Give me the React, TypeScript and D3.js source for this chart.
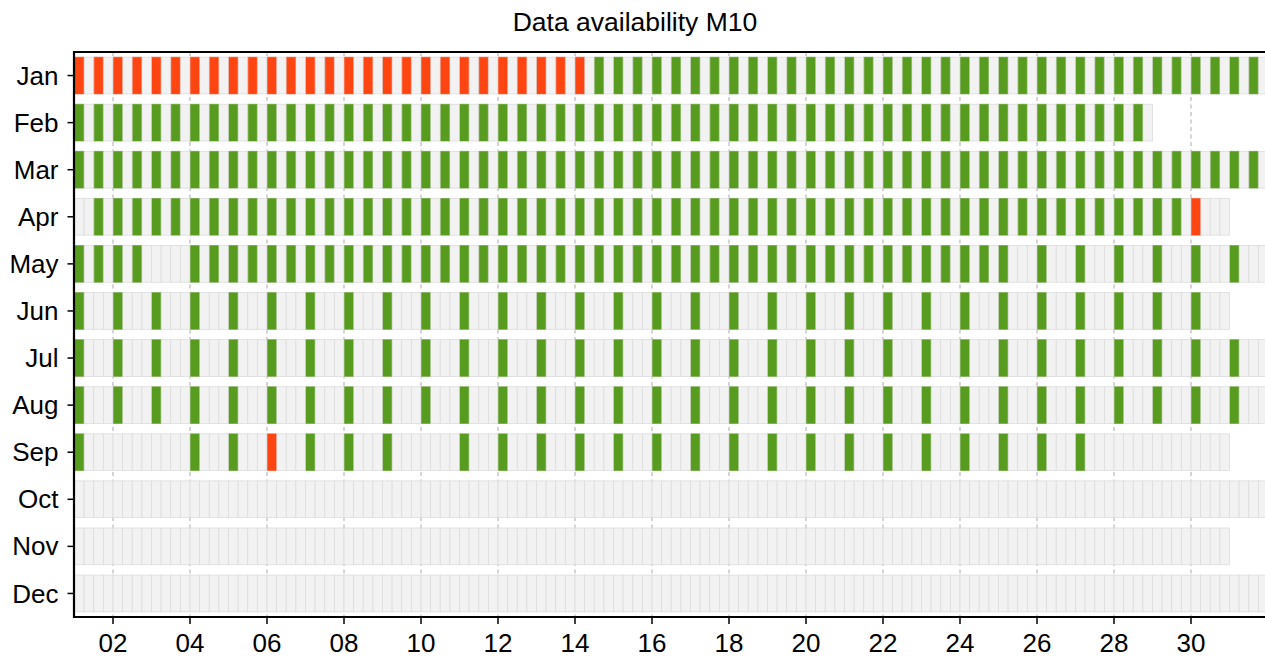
import React from "react";
import * as d3 from "d3";

// ---- data ----
const months = ["Jan", "Feb", "Mar", "Apr", "May", "Jun", "Jul", "Aug", "Sep", "Oct", "Nov", "Dec"];
const daysInMonth = [31, 28, 31, 30, 31, 30, 31, 31, 30, 31, 30, 31];

// Status of the 00 UTC slot per day, run-length encoded: G = available, R = flagged, - = missing
const avail00h: [string, number][][] = [
  [["R", 14], ["G", 17]], // Jan
  [["G", 28]], // Feb
  [["G", 31]], // Mar
  [["-", 1], ["G", 28], ["R", 1]], // Apr
  [["G", 2], ["-", 1], ["G", 28]], // May
  [["G", 30]], // Jun
  [["G", 31]], // Jul
  [["G", 31]], // Aug
  [["G", 1], ["-", 2], ["G", 2], ["R", 1], ["G", 3], ["-", 1], ["G", 17], ["-", 3]], // Sep
  [["-", 31]], // Oct
  [["-", 30]], // Nov
  [["-", 31]], // Dec
];

// Status of the 12 UTC slot per day
const avail12h: [string, number][][] = [
  [["R", 13], ["G", 18]], // Jan
  [["G", 28]], // Feb
  [["G", 31]], // Mar
  [["G", 29], ["-", 1]], // Apr
  [["G", 2], ["-", 1], ["G", 21], ["-", 7]], // May
  [["-", 30]], // Jun
  [["-", 31]], // Jul
  [["-", 31]], // Aug
  [["-", 30]], // Sep
  [["-", 31]], // Oct
  [["-", 30]], // Nov
  [["-", 31]], // Dec
];

const slotHours = [0, 6, 12, 18];
const xTicks = [2, 4, 6, 8, 10, 12, 14, 16, 18, 20, 22, 24, 26, 28, 30];
const title = "Data availability M10";

const statusColor: Record<string, string> = { G: "#589c1f", R: "#ff4511" };

function expand(runs: [string, number][]): string[] {
  const out: string[] = [];
  runs.forEach(([s, n]) => {
    for (let i = 0; i < n; i++) out.push(s);
  });
  return out;
}

export default function App() {
  const W = 1265;
  const H = 657;
  const left = 74.5;
  const top = 52;
  const bottom = 617;
  const x = d3.scaleLinear().domain([1, 32]).range([left, 1268]);
  const y = d3.scaleBand<string>().domain(months).range([top, bottom]).paddingInner(0.22).paddingOuter(0.11);
  const bw = y.bandwidth();
  const fmt = d3.format("02d");
  const font = "'Liberation Sans', Arial, Helvetica, sans-serif";

  const cells: React.ReactNode[] = [];
  const bars: React.ReactNode[] = [];
  months.forEach((m, mi) => {
    const y0 = y(m)!;
    for (let d = 1; d <= daysInMonth[mi]; d++) {
      slotHours.forEach((h) => {
        const x0 = x(d + h / 24);
        const x1 = x(d + (h + 6) / 24);
        cells.push(
          <rect key={`c${mi}-${d}-${h}`} x={x0} y={y0} width={x1 - x0} height={bw}
            fill="#f2f2f2" stroke="#dcdcdc" strokeWidth={0.8} />
        );
      });
    }
    const s00 = expand(avail00h[mi]);
    const s12 = expand(avail12h[mi]);
    [[s00, 0], [s12, 12]].forEach(([arr, h]) => {
      (arr as string[]).forEach((s, i) => {
        if (!statusColor[s]) return;
        const d = i + 1;
        const x0 = x(d + (h as number) / 24);
        const x1 = x(d + ((h as number) + 6) / 24);
        bars.push(
          <rect key={`b${mi}-${d}-${h}`} x={x0 + 0.5} y={y0} width={x1 - x0 - 1} height={bw}
            fill={statusColor[s]} stroke={statusColor[s]} strokeOpacity={0.45} strokeWidth={1} />
        );
      });
    });
  });

  return (
    <svg width={W} height={H} style={{ position: "absolute", left: 0, top: 0, background: "#fff" }}>
      <text x={635} y={31} textAnchor="middle" fontFamily={font} fontSize={26.5} fill="#000">{title}</text>
      {/* grid */}
      {xTicks.map((t) => (
        <line key={`g${t}`} x1={x(t)} x2={x(t)} y1={top} y2={bottom} stroke="#c4c4c4" strokeWidth={1.4} strokeDasharray="4,3.5" />
      ))}
      {cells}
      {bars}
      {/* frame */}
      <line x1={left - 1} x2={W} y1={top} y2={top} stroke="#000" strokeWidth={2.2} />
      <line x1={left - 1} x2={W} y1={bottom} y2={bottom} stroke="#000" strokeWidth={2.2} />
      <line x1={left - 0.5} x2={left - 0.5} y1={top - 1} y2={bottom + 1} stroke="#000" strokeWidth={2.2} />
      {/* y axis */}
      {months.map((m) => {
        const cy = y(m)! + bw / 2;
        return (
          <g key={`y${m}`}>
            <line x1={left - 7} x2={left - 1} y1={cy} y2={cy} stroke="#000" strokeWidth={1.5} />
            <text x={58.5} y={cy} dy="0.35em" textAnchor="end" fontFamily={font} fontSize={26} fill="#000">{m}</text>
          </g>
        );
      })}
      {/* x axis */}
      {xTicks.map((t) => (
        <g key={`x${t}`}>
          <line x1={x(t)} x2={x(t)} y1={bottom + 1} y2={bottom + 7} stroke="#000" strokeWidth={1.5} />
          <text x={x(t)} y={652} textAnchor="middle" fontFamily={font} fontSize={26} fill="#000">{fmt(t)}</text>
        </g>
      ))}
    </svg>
  );
}
